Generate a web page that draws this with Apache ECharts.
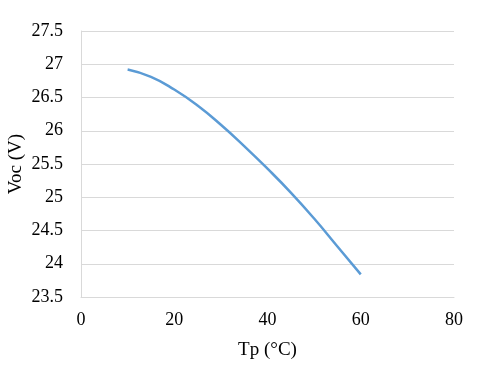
<!DOCTYPE html>
<html>
<head>
<meta charset="utf-8">
<script src="https://cdn.jsdelivr.net/npm/echarts@6/dist/echarts.min.js"></script>
<style>
html,body{margin:0;padding:0;background:#fff;}
#chart{width:480px;height:371px;}
</style>
</head>
<body>
<div id="chart"></div>
<script>
// Tp (°C) vs Voc (V)
var tpValues = [10, 15, 20, 25, 30, 35, 40, 45, 50, 55, 60];
var vocValues = [26.92, 26.81, 26.62, 26.38, 26.09, 25.77, 25.43, 25.07, 24.68, 24.26, 23.84];
var xTicks = [0, 80, 20];       // min, max, interval
var yTicks = [23.5, 27.5, 0.5]; // min, max, interval

var seriesData = [];
for (var i = 0; i < tpValues.length; i++) {
    seriesData.push([tpValues[i], vocValues[i]]);
}

var fontName = '"Liberation Serif", "DejaVu Serif", serif';
var gridColor = '#d9d9d9';

var myChart = echarts.init(document.getElementById('chart'), null, {renderer: 'canvas'});
var option = {
    animation: false,
    grid: {left: 81, right: 26, top: 31, bottom: 74, containLabel: false, outerBoundsMode: 'none'},
    xAxis: {
        type: 'value',
        min: xTicks[0], max: xTicks[1], interval: xTicks[2],
        name: 'Tp (°C)',
        nameLocation: 'middle',
        nameGap: 44,
        nameMoveOverlap: false,
        nameTextStyle: {fontFamily: fontName, fontSize: 19, color: '#000'},
        axisLine: {show: true, lineStyle: {color: gridColor, width: 1}},
        axisTick: {show: false},
        splitLine: {show: false},
        axisLabel: {fontFamily: fontName, fontSize: 18, color: '#000', margin: 14}
    },
    yAxis: {
        type: 'value',
        min: yTicks[0], max: yTicks[1], interval: yTicks[2],
        name: 'Voc (V)',
        nameLocation: 'middle',
        nameGap: 55,
        nameRotate: 90,
        nameMoveOverlap: false,
        nameTextStyle: {fontFamily: fontName, fontSize: 19, color: '#000'},
        axisLine: {show: true, lineStyle: {color: gridColor, width: 1}},
        axisTick: {show: false},
        splitLine: {show: true, lineStyle: {color: gridColor, width: 1}},
        axisLabel: {fontFamily: fontName, fontSize: 18, color: '#000', margin: 18}
    },
    series: [{
        type: 'line',
        data: seriesData,
        smooth: true,
        showSymbol: false,
        lineStyle: {color: '#5b9bd5', width: 2.5}
    }]
};
myChart.setOption(option);
</script>
</body>
</html>
